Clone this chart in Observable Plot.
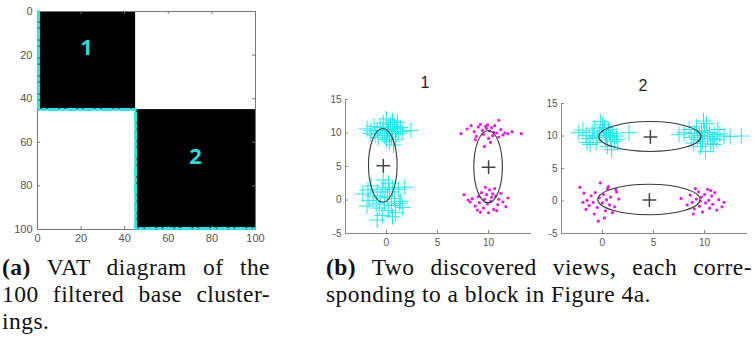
<!DOCTYPE html>
<html><head><meta charset="utf-8">
<script src="https://cdn.jsdelivr.net/npm/d3@7"></script>
<script src="https://cdn.jsdelivr.net/npm/@observablehq/plot@0.6"></script>
<style>
body{margin:0;background:#fff;}
#root{position:relative;width:756px;height:343px;overflow:hidden;background:#fff;}
.abs{position:absolute;}
.cap{font-family:"Liberation Serif","Times New Roman",serif;font-size:23.5px;letter-spacing:0.45px;line-height:27px;color:#111;}
.cap .j{display:block;text-align:justify;text-align-last:justify;}
.cap .n{display:block;}
.ttl{font-family:"Liberation Sans",Arial,sans-serif;font-size:16px;line-height:16px;color:#222;transform:translateX(-50%);}
</style></head><body><div id="root"></div>
<script>
// ---------- Panel (a): VAT diagram ----------
const vatTicks = [0, 20, 40, 60, 80, 100];
const vatBlocks = [
  {label: "1", x1: 0, x2: 45, y1: 0, y2: 45},
  {label: "2", x1: 45, x2: 100, y1: 45, y2: 100}
];
const vatBoundary = [[0.5, 0], [0.5, 45], [45, 45], [45, 99.5], [99.5, 99.5]];

// ---------- Panel (b): two discovered views ----------
const viewXTicks = [0, 5, 10];
const viewYTicks = [-5, 0, 5, 10, 15];
const viewTitles = ["1", "2"];

// view 1
const view1CyanTop = [[-1.9,10.6],[-1.5,10.3],[-1.2,11.0],[-0.9,10.4],[-0.6,10.8],[-0.3,11.5],[0.0,12.1],[0.2,10.9],[0.4,11.3],[0.6,10.2],[0.8,11.0],[1.0,10.6],[1.2,9.9],[-0.2,9.6],[0.1,10.3],[0.5,9.4],[0.9,9.0],[1.4,10.8],[2.4,10.4],[-1.6,9.9],[-0.8,9.3],[0.3,8.7],[0.7,8.2],[-0.4,10.0],[1.1,11.6],[0.6,11.8],[-1.1,9.7],[0.0,9.0],[1.6,10.2],[0.2,10.6]];
const view1CyanBottom = [[-0.3,3.0],[0.2,2.5],[0.6,1.8],[-1.5,2.1],[-1.8,1.5],[-0.9,1.2],[-0.4,1.6],[0.3,1.2],[1.2,1.6],[1.8,1.9],[-2.3,0.9],[-1.3,0.6],[-0.6,0.3],[0.1,0.5],[0.8,0.2],[-1.7,-0.1],[-1.0,-0.6],[-0.2,-0.3],[0.5,-0.8],[1.3,-0.5],[1.6,-1.1],[-1.9,-0.9],[-0.7,-1.2],[0.2,-1.6],[0.9,-1.9],[-0.4,-2.3],[-0.9,-3.0],[0.6,-2.5],[1.4,-0.2],[-0.1,1.9]];
const view1MagentaTop = [[7.3,9.9],[7.9,10.6],[8.3,11.1],[8.6,10.2],[8.8,9.5],[9.0,10.9],[9.2,11.3],[9.4,10.4],[9.5,9.8],[9.7,11.0],[9.8,10.7],[10.0,9.2],[10.1,10.3],[10.3,10.8],[10.4,9.6],[10.6,11.1],[10.8,10.0],[11.0,9.4],[11.2,10.5],[11.4,9.7],[11.6,10.0],[11.9,9.9],[12.3,10.2],[13.2,9.9],[10.2,8.6],[9.6,8.0],[8.7,9.0],[11.0,11.9],[9.9,11.2],[10.5,10.1]];
const view1MagentaBottom = [[7.6,0.8],[8.2,-0.3],[8.4,0.2],[8.7,-0.9],[9.0,0.5],[9.1,-0.4],[9.3,1.1],[9.5,-1.2],[9.6,0.1],[9.8,0.8],[9.9,-0.6],[10.1,1.5],[10.2,-0.2],[10.3,0.4],[10.5,-1.4],[10.6,1.7],[10.7,0.6],[10.9,-0.7],[11.0,0.1],[11.2,1.0],[11.4,-0.3],[11.7,-1.0],[9.2,-1.8],[8.9,-1.5],[10.0,-1.9],[10.8,-1.6],[9.7,1.9],[11.9,0.3],[8.0,0.0],[10.4,0.9]];
const view1Ellipses = [
  {cx: -0.3, cy: 5.1, rx: 1.4, ry: 5.5},
  {cx: 10.0, cy: 4.9, rx: 1.4, ry: 5.4}
];

// view 2
const view2CyanLeft = [[-2.3,10.5],[-1.9,10.9],[-1.6,10.1],[-1.3,9.6],[-1.0,10.6],[-0.8,11.2],[-0.5,9.8],[-0.3,10.3],[0.0,11.7],[0.1,10.8],[0.3,9.4],[0.4,10.1],[0.6,11.0],[0.8,9.8],[1.0,10.4],[1.2,9.2],[1.4,10.0],[2.6,10.5],[-1.2,8.7],[-0.6,9.0],[0.5,8.4],[0.9,7.9],[-0.2,12.2],[0.2,11.3],[-0.9,10.0],[1.5,9.5],[0.7,10.6],[-1.5,9.0]];
const view2CyanRight = [[7.5,10.2],[8.0,10.5],[8.5,11.0],[8.7,9.8],[9.0,10.4],[9.2,11.4],[9.3,9.5],[9.5,10.1],[9.7,10.8],[9.8,9.2],[10.0,10.6],[10.2,11.9],[10.3,9.9],[10.5,10.5],[10.6,8.8],[10.8,9.6],[11.0,10.2],[11.2,9.4],[11.5,10.3],[11.9,10.0],[12.5,9.9],[13.6,10.0],[10.1,7.6],[9.6,8.4],[10.9,8.7],[11.3,11.0],[9.9,12.3],[8.9,8.9]];
const view2MagentaLeft = [[-2.2,2.1],[-1.8,1.2],[-1.5,0.1],[-1.3,-0.7],[-1.1,0.8],[-0.9,-0.2],[-0.7,1.3],[-0.5,-1.0],[-0.3,0.5],[-0.2,2.8],[0.0,-0.3],[0.1,1.0],[0.3,-1.5],[0.4,0.2],[0.5,1.9],[0.7,-0.6],[0.8,0.6],[1.0,-1.8],[1.2,-0.9],[1.4,1.4],[1.6,0.3],[-1.6,-1.3],[-0.8,-2.0],[0.2,-2.6],[-0.4,-3.1],[1.3,1.8],[-1.9,-0.2],[0.6,2.2]];
const view2MagentaRight = [[7.7,0.4],[8.3,-0.6],[8.6,0.9],[8.8,-0.2],[9.0,-1.2],[9.2,0.3],[9.4,1.4],[9.5,-0.8],[9.7,0.6],[9.8,-1.7],[10.0,1.0],[10.1,-0.3],[10.3,1.8],[10.4,0.1],[10.5,-1.1],[10.7,0.8],[10.8,-0.5],[11.0,1.3],[11.2,-1.4],[11.4,0.2],[11.7,-0.9],[9.1,1.9],[8.9,-2.0],[10.6,1.6],[9.6,0.0],[11.9,-0.2]];
const view2Ellipses = [
  {cx: 4.7, cy: 9.85, rx: 5.0, ry: 2.3},
  {cx: 4.6, cy: 0.15, rx: 5.0, ry: 2.35}
];

const CYAN = "#1fe9ee";
const MAGENTA = "#e51ee5";

const root = document.getElementById("root");
function place(node, left, top) {
  node.style.position = "absolute";
  node.style.left = left + "px";
  node.style.top = top + "px";
  root.appendChild(node);
}

// ---------- draw panel (a) ----------
const aW = 270, aH = 250, aML = 37, aMR = 15, aMT = 11, aMB = 21;
const aPW = aW - aML - aMR, aPH = aH - aMT - aMB;
const plotA = Plot.plot({
  width: aW, height: aH,
  marginLeft: aML, marginRight: aMR, marginTop: aMT, marginBottom: aMB,
  style: {fontFamily: "'Liberation Sans', Arial, sans-serif", fontSize: "11px", color: "#555", background: "transparent"},
  x: {domain: [0, 100]},
  y: {domain: [0, 100], reverse: true},
  marks: [
    Plot.rect(vatBlocks, {x1: "x1", x2: "x2", y1: "y1", y2: "y2", fill: "#000"}),
    Plot.frame({stroke: "#777", strokeWidth: 1}),
    Plot.ruleX(vatTicks, {insetTop: aPH - 3, stroke: "#777"}),
    Plot.ruleX(vatTicks, {insetBottom: aPH - 3, stroke: "#777"}),
    Plot.ruleY(vatTicks, {insetRight: aPW - 3, stroke: "#777"}),
    Plot.ruleY(vatTicks, {insetLeft: aPW - 3, stroke: "#777"}),
    Plot.axisX({ticks: vatTicks, tickSize: 0, tickPadding: 5, label: null, tickFormat: d => String(d)}),
    Plot.axisY({ticks: vatTicks, tickSize: 0, tickPadding: 5, label: null, tickFormat: d => String(d)}),
    Plot.line(vatBoundary, {x: d => d[0], y: d => d[1], stroke: CYAN, strokeWidth: 3, strokeDasharray: "9,3,3,3"}),
    Plot.text(vatBlocks, {
      x: d => (d.x1 + d.x2) / 2, y: d => (d.y1 + d.y2) / 2, dy: -13,
      text: "label", fill: "#28dcdc", fontSize: 22, fontWeight: "bold",
      fontFamily: "'Open Sans', 'Noto Sans', sans-serif"
    })
  ]
});
place(plotA, 0, 0);

// ---------- draw panel (b) ----------
function ellipseMark(data) {
  return (index, scales) => {
    const g = d3.create("svg:g").attr("fill", "none").attr("stroke", "#3a3a3a").attr("stroke-width", 1.1);
    for (const e of data) {
      const cx = scales.x(e.cx), cy = scales.y(e.cy);
      g.append("ellipse")
        .attr("cx", cx).attr("cy", cy)
        .attr("rx", Math.abs(scales.x(e.cx + e.rx) - cx))
        .attr("ry", Math.abs(scales.y(e.cy + e.ry) - cy));
    }
    return g.node();
  };
}

function viewPlot(cyanSets, magentaSets, ellipses, marginTop) {
  const W = 216, H = 178, ML = 25, MR = 5, MB = 20;
  const PW = W - ML - MR, PH = H - marginTop - MB;
  const cyan = cyanSets.flat(), magenta = magentaSets.flat();
  return Plot.plot({
    width: W, height: H, marginLeft: ML, marginRight: MR, marginTop, marginBottom: MB,
    style: {fontFamily: "'Liberation Sans', Arial, sans-serif", fontSize: "10px", color: "#555", background: "transparent"},
    x: {domain: [-4, 14.2]},
    y: {domain: [-5, 15]},
    marks: [
      Plot.axisX({ticks: viewXTicks, tickSize: 0, tickPadding: 5, label: null, tickFormat: d => String(d)}),
      Plot.axisY({ticks: viewYTicks, tickSize: 0, tickPadding: 4, label: null, tickFormat: d => String(d)}),
      Plot.ruleX([-4], {stroke: "#888"}),
      Plot.ruleY([-5], {stroke: "#888"}),
      Plot.ruleX(viewXTicks, {insetTop: PH - 3, stroke: "#888"}),
      Plot.ruleY(viewYTicks, {insetRight: PW - 3, stroke: "#888"}),
      Plot.dot(cyan, {x: d => d[0], y: d => d[1], symbol: "plus", r: 5.2, stroke: CYAN, strokeWidth: 1}),
      Plot.dot(magenta, {x: d => d[0], y: d => d[1], r: 1.6, fill: MAGENTA, stroke: "none"}),
      ellipseMark(ellipses),
      Plot.dot(ellipses, {x: "cx", y: "cy", symbol: "plus", r: 4.5, stroke: "#444", strokeWidth: 1.5})
    ]
  });
}

place(viewPlot([view1CyanTop, view1CyanBottom], [view1MagentaTop, view1MagentaBottom], view1Ellipses, 24), 320, 75);
place(viewPlot([view2CyanLeft, view2CyanRight], [view2MagentaLeft, view2MagentaRight], view2Ellipses, 28), 536, 75);

// titles of the two views
[[viewTitles[0], 425, 75], [viewTitles[1], 643, 78]].forEach(([t, x, y]) => {
  const d = document.createElement("div");
  d.className = "ttl";
  d.textContent = t;
  place(d, x, y);
});

// ---------- captions ----------
const capA = document.createElement("div");
capA.className = "cap";
capA.style.width = "268px";
capA.innerHTML = '<span class="j"><b>(a)</b> VAT diagram of the</span><span class="j">100 filtered base cluster-</span><span class="n">ings.</span>';
place(capA, 2, 254);

const capB = document.createElement("div");
capB.className = "cap";
capB.style.width = "426px";
capB.innerHTML = '<span class="j"><b>(b)</b> Two discovered views, each corre-</span><span class="n">sponding to a block in Figure 4a.</span>';
place(capB, 326, 254);
</script>
</body></html>
